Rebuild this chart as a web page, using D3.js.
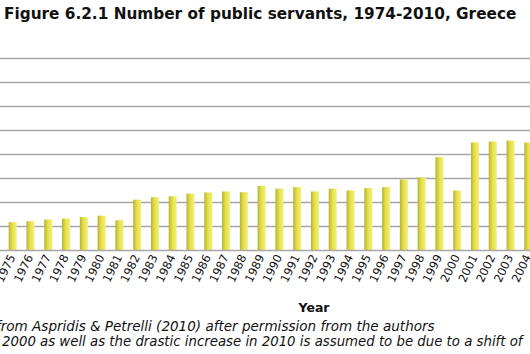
<!DOCTYPE html>
<html>
<head>
<meta charset="utf-8">
<script src="https://cdn.jsdelivr.net/npm/d3@7"></script>
<style>
  body { margin: 0; background: #fff; }
  svg { display: block; }
  text { font-family: "DejaVu Sans", Verdana, sans-serif; fill: #111; }
</style>
</head>
<body>
<script>
// visible years (chart is cropped left and right)
const years = [
  "1975", "1976", "1977", "1978", "1979", "1980", "1981", "1982", "1983", "1984",
  "1985", "1986", "1987", "1988", "1989", "1990", "1991", "1992", "1993", "1994",
  "1995", "1996", "1997", "1998", "1999", "2000", "2001", "2002", "2003", "2004"
];
// public servants, thousands
const servants = [
  118, 122, 129, 133, 139, 145, 126, 212, 222, 226,
  237, 242, 246, 243, 269, 258, 264, 246, 258, 250,
  260, 264, 296, 305, 389, 250, 450, 454, 458, 450
];
const gridValues = [100, 200, 300, 400, 500, 600, 700, 800];

const titleText = "Figure 6.2.1 Number of public servants, 1974-2010, Greece",
  xTitle = "Year",
  notes = [
    "from Aspridis & Petrelli (2010) after permission from the authors",
    "2000 as well as the drastic increase in 2010 is assumed to be due to a shift of"
  ];

const width = 530, height = 354;

let svg = d3.select("body")
  .append("svg")
  .attr("width", width)
  .attr("height", height);

// 漸層
let grad = svg.append("defs")
  .append("linearGradient")
  .attr("id", "barGrad")
  .attr("x1", "0%").attr("x2", "100%")
  .attr("y1", "0%").attr("y2", "0%");
grad.append("stop").attr("offset", "0%").attr("stop-color", "#b7b32e");
grad.append("stop").attr("offset", "45%").attr("stop-color", "#e4e04a");
grad.append("stop").attr("offset", "100%").attr("stop-color", "#f2f07a");

// scales
let x = d3.scaleBand()
  .domain(years)
  .range([3.8, 537.2])
  .paddingInner(0.55)
  .paddingOuter(0.275);

let y = d3.scaleLinear()
  .domain([0, 800])
  .range([250.5, 58.5]);

// gridlines
svg.append("g")
  .attr("class", "grid")
  .selectAll("line")
  .data(gridValues)
  .join("line")
  .attr("x1", 0)
  .attr("x2", width)
  .attr("y1", d => y(d))
  .attr("y2", d => y(d))
  .attr("stroke", "#a8a8a8")
  .attr("stroke-width", 1.5);

// bars
svg.append("g")
  .selectAll("rect")
  .data(servants)
  .join("rect")
  .attr("x", (d, i) => x(years[i]))
  .attr("width", x.bandwidth())
  .attr("y", d => y(d))
  .attr("height", d => y(0) - y(d))
  .attr("fill", "url(#barGrad)");

// x axis line
svg.append("line")
  .attr("x1", 0).attr("x2", width)
  .attr("y1", y(0)).attr("y2", y(0))
  .attr("stroke", "#a8a8a8")
  .attr("stroke-width", 1.5);

// year labels
svg.append("g")
  .selectAll("text")
  .data(years)
  .join("text")
  .attr("text-anchor", "end")
  .attr("font-size", 11.5)
  .attr("transform", d => "translate(" + (x(d) + x.bandwidth() / 2 + 3) + ", 257) rotate(-64)")
  .text(d => d);

// title, fitted to the reference width
let title = svg.append("text")
  .attr("x", 4)
  .attr("y", 18.5)
  .attr("font-weight", "bold")
  .attr("font-size", 16)
  .text(titleText);
let tw = title.node().getComputedTextLength();
title.attr("font-size", 16 * 513 / tw);

svg.append("text")
  .attr("x", 314)
  .attr("y", 311.5)
  .attr("text-anchor", "middle")
  .attr("font-weight", "bold")
  .attr("font-size", 12.5)
  .text(xTitle);

// notes
let noteTargets = [[-4, 435], [2, 523]],
  noteY = [330.5, 345.5];
notes.forEach((t, i) => {
  let n = svg.append("text")
    .attr("x", noteTargets[i][0])
    .attr("y", noteY[i])
    .attr("font-style", "italic")
    .attr("font-size", 13)
    .text(t);
  let w = n.node().getComputedTextLength();
  n.attr("font-size", 13 * (noteTargets[i][1] - noteTargets[i][0]) / w);
});
</script>
</body>
</html>
